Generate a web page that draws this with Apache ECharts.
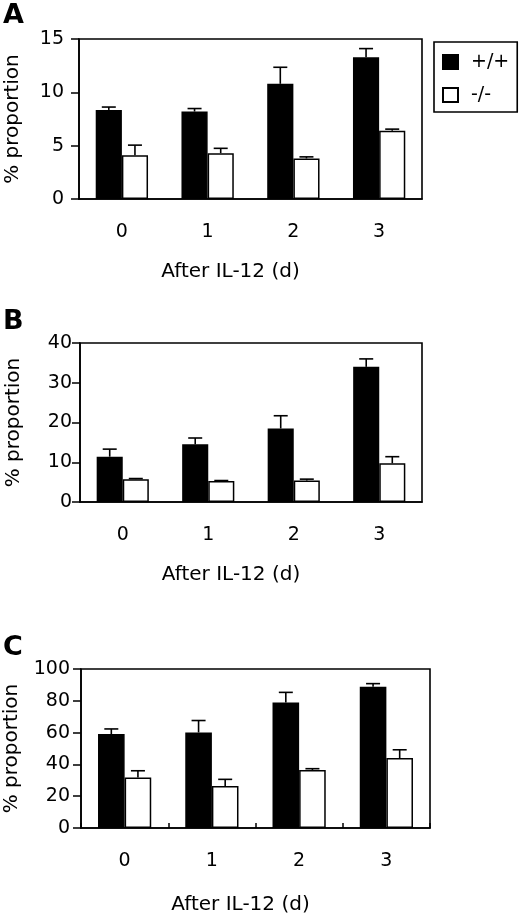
<!DOCTYPE html>
<html lang="en">
<head>
    <meta charset="UTF-8">
    <title>IL-12 proportion</title>
    <script src="https://cdn.jsdelivr.net/npm/echarts@6/dist/echarts.min.js"></script>
    <style>
        body { margin: 0; background: #fff; }
    </style>
</head>
<body>
    <div id="main" style="width: 520px;height:918px;"></div>

    <script type="text/javascript">
        // 数据
        var days = ['0', '1', '2', '3'];

        // A
        var aWT = [8.35, 8.2, 10.8, 13.3];
        var aWTErr = [0.27, 0.28, 1.55, 0.8];
        var aKO = [4.1, 4.3, 3.8, 6.4];
        var aKOErr = [0.95, 0.45, 0.15, 0.15];

        // B
        var bWT = [11.4, 14.5, 18.5, 34];
        var bWTErr = [1.9, 1.6, 3.2, 2];
        var bKO = [5.75, 5.3, 5.4, 9.75];
        var bKOErr = [0.15, 0.1, 0.35, 1.65];

        // C
        var cWT = [59.1, 60.1, 79, 88.9];
        var cWTErr = [3.2, 7.5, 6.3, 1.9];
        var cKO = [31.8, 26.4, 36.5, 44];
        var cKOErr = [4.2, 4.2, 0.8, 5.2];

        var yMax = [15, 40, 100];
        var yStep = [5, 10, 20];

        var font = 'DejaVu Sans';

        function withErr(vals, errs) {
            return vals.map(function (v, i) { return [i, v, errs[i]]; });
        }

        // 误差线, side = -1 左边的柱子, 1 右边的柱子
        function errSeries(idx, vals, errs, side) {
            return {
                type: 'custom',
                xAxisIndex: idx,
                yAxisIndex: idx,
                z: 5,
                silent: true,
                encode: { x: 0, y: 1 },
                data: withErr(vals, errs),
                renderItem: function (params, api) {
                    var x = api.value(0), v = api.value(1), e = api.value(2);
                    var base = api.coord([x, v]);
                    var top = api.coord([x, v + e]);
                    var band = api.size([1, 0])[0];
                    var cx = base[0] + side * band * 0.1525;
                    var st = { stroke: '#000', lineWidth: 1.6 };
                    return {
                        type: 'group',
                        children: [
                            { type: 'line', shape: { x1: cx, y1: base[1], x2: cx, y2: top[1] }, style: st },
                            { type: 'line', shape: { x1: cx - 7, y1: top[1], x2: cx + 7, y2: top[1] }, style: st }
                        ]
                    };
                }
            };
        }

        var grids = [
            { left: 79, right: 98, top: 39, height: 160 },
            { left: 80, right: 98, top: 343, height: 159 },
            { left: 81, right: 90, top: 669, height: 159 }
        ];
        var labelMargin = [15, 8, 11];
        var yNameGap = [56, 56, 59];

        var myChart = echarts.init(document.getElementById('main'));

        var option = {
            backgroundColor: '#fff',
            animation: false,
            textStyle: { fontFamily: font, color: '#000' },
            grid: grids.map(function (g) {
                return Object.assign({
                    show: true,
                    outerBoundsMode: 'none',
                    containLabel: false,
                    borderColor: '#000',
                    borderWidth: 1.6,
                    backgroundColor: 'transparent'
                }, g);
            }),
            legend: {
                data: ['+/+', '-/-'],
                orient: 'vertical',
                left: 434,
                top: 42,
                padding: [10, 8, 7, 8],
                itemGap: 13,
                itemWidth: 15,
                itemHeight: 14,
                borderColor: '#000',
                borderWidth: 1.6,
                icon: 'rect',
                textStyle: { fontFamily: font, fontSize: 19, color: '#000', lineHeight: 20, padding: [0, 0, 0, 8] }
            },
            xAxis: [0, 1, 2].map(function (i) {
                return {
                    type: 'category',
                    gridIndex: i,
                    data: days,
                    name: 'After IL-12 (d)',
                    nameLocation: 'middle',
                    nameGap: i === 2 ? 67 : 63,
                    nameTextStyle: { fontFamily: font, fontSize: 20, color: '#000', padding: [0, i === 2 ? 30 : 40, 0, 0] },
                    axisLine: { lineStyle: { color: '#000', width: 1.6 } },
                    axisTick: { show: i === 2, inside: true, length: 5, lineStyle: { color: '#000', width: 1.5 } },
                    axisLabel: { fontFamily: font, fontSize: 19, color: '#000', margin: 24 },
                    splitLine: { show: false }
                };
            }),
            yAxis: [0, 1, 2].map(function (i) {
                return {
                    type: 'value',
                    gridIndex: i,
                    min: 0,
                    max: yMax[i],
                    interval: yStep[i],
                    name: '% proportion',
                    nameLocation: 'middle',
                    nameGap: yNameGap[i],
                    nameTextStyle: { fontFamily: font, fontSize: 20, color: '#000' },
                    axisLine: { show: true, lineStyle: { color: '#000', width: 1.6 } },
                    axisTick: { show: true, length: 8, lineStyle: { color: '#000', width: 1.5 } },
                    axisLabel: { fontFamily: font, fontSize: 19, color: '#000', margin: labelMargin[i] },
                    splitLine: { show: false }
                };
            }),
            graphic: [
                { type: 'text', left: 3, top: 2, style: { text: 'A', font: 'bold 27px "DejaVu Sans"', fill: '#000' } },
                { type: 'text', left: 3, top: 308, style: { text: 'B', font: 'bold 27px "DejaVu Sans"', fill: '#000' } },
                { type: 'text', left: 3, top: 634, style: { text: 'C', font: 'bold 27px "DejaVu Sans"', fill: '#000' } }
            ],
            series: []
        };

        var sets = [
            [aWT, aWTErr, aKO, aKOErr],
            [bWT, bWTErr, bKO, bKOErr],
            [cWT, cWTErr, cKO, cKOErr]
        ];

        sets.forEach(function (s, i) {
            option.series.push({
                name: '+/+',
                type: 'bar',
                xAxisIndex: i,
                yAxisIndex: i,
                data: s[0],
                barGap: '0%',
                barCategoryGap: '39%',
                itemStyle: { color: '#000', borderColor: '#000', borderWidth: 1.5 }
            });
            option.series.push({
                name: '-/-',
                type: 'bar',
                xAxisIndex: i,
                yAxisIndex: i,
                data: s[2],
                barGap: '0%',
                barCategoryGap: '39%',
                itemStyle: { color: '#fff', borderColor: '#000', borderWidth: 1.5 }
            });
            option.series.push(errSeries(i, s[0], s[1], -1));
            option.series.push(errSeries(i, s[2], s[3], 1));
        });

        myChart.setOption(option);
    </script>
</body>
</html>
